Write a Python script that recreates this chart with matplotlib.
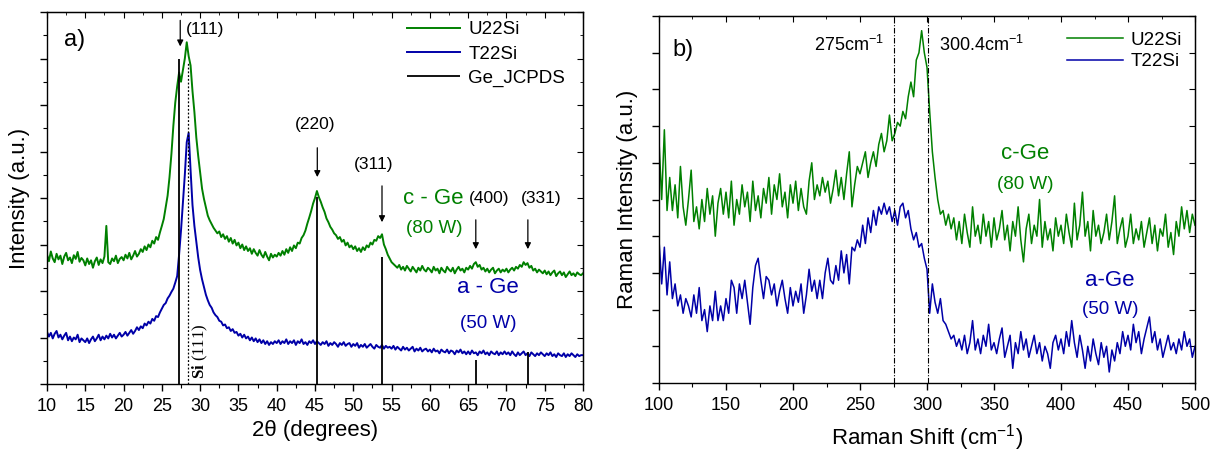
import numpy as np
import matplotlib
matplotlib.use("Agg")
import matplotlib.pyplot as plt
from matplotlib.ticker import MultipleLocator, NullFormatter

plt.rcParams["font.family"] = ["Liberation Sans", "DejaVu Sans"]
plt.rcParams["mathtext.fontset"] = "custom"
plt.rcParams["mathtext.rm"] = "Liberation Sans"
plt.rcParams["mathtext.it"] = "Liberation Sans:italic"
plt.rcParams["mathtext.bf"] = "Liberation Serif:bold"

GREEN = "#008000"
BLUE = "#0000a8"

# ---- XRD data (a), 2theta grid 10..80 step 0.25 ----
two_theta = np.arange(10, 80.001, 0.25)

xrd_u22si = [
    2.78, 2.64, 2.85, 2.70, 2.62, 2.80, 2.68, 2.76, 2.58, 2.74, 2.82, 2.66, 2.72, 2.60, 2.77, 2.69, 2.84, 2.63, 2.71, 2.66,
    2.55, 2.70, 2.58, 2.66, 2.50, 2.64, 2.72, 2.56, 2.68, 2.60, 2.74, 3.40, 2.62, 2.58, 2.70, 2.64, 2.76, 2.60, 2.69, 2.73,
    2.66, 2.78, 2.70, 2.82, 2.68, 2.76, 2.86, 2.74, 2.80, 2.90, 2.84, 2.96, 2.88, 3.00, 2.94, 3.08, 3.02, 3.16, 3.10, 3.26,
    3.40, 3.55, 3.80, 4.05, 4.45, 4.95, 5.55, 6.05, 6.40, 6.70, 6.50, 6.75, 7.00, 7.35, 7.05, 6.85, 6.30, 5.85, 5.30, 4.90,
    4.55, 4.20, 3.98, 3.80, 3.62, 3.52, 3.44, 3.36, 3.30, 3.24, 3.28, 3.16, 3.22, 3.12, 3.18, 3.06, 3.14, 3.02, 3.10, 2.98,
    3.04, 2.92, 3.00, 2.88, 2.96, 2.86, 2.92, 2.80, 2.90, 2.82, 2.76, 2.88, 2.78, 2.72, 2.84, 2.74, 2.66, 2.80, 2.72, 2.78,
    2.74, 2.82, 2.76, 2.86, 2.78, 2.90, 2.82, 2.94, 2.86, 2.98, 2.92, 3.04, 3.02, 3.14, 3.20, 3.30, 3.45, 3.58, 3.72, 3.88,
    4.00, 4.15, 4.02, 3.92, 3.80, 3.70, 3.56, 3.48, 3.38, 3.32, 3.24, 3.20, 3.12, 3.16, 3.06, 3.10, 2.98, 3.04, 2.94, 2.98,
    2.90, 2.96, 2.86, 2.92, 2.84, 2.94, 2.88, 2.98, 2.94, 3.04, 3.00, 3.10, 3.08, 3.18, 3.14, 3.22, 3.00, 2.90, 2.78, 2.70,
    2.62, 2.58, 2.54, 2.50, 2.56, 2.46, 2.52, 2.44, 2.54, 2.48, 2.42, 2.52, 2.46, 2.40, 2.50, 2.44, 2.54, 2.46, 2.42, 2.50,
    2.46, 2.40, 2.52, 2.44, 2.48, 2.38, 2.50, 2.44, 2.40, 2.52, 2.46, 2.42, 2.50, 2.38, 2.46, 2.52, 2.44, 2.48, 2.40, 2.50,
    2.46, 2.54, 2.48, 2.58, 2.62, 2.52, 2.56, 2.46, 2.50, 2.42, 2.48, 2.40, 2.46, 2.50, 2.38, 2.44, 2.48, 2.40, 2.46, 2.42,
    2.48, 2.40, 2.46, 2.50, 2.44, 2.52, 2.48, 2.56, 2.52, 2.62, 2.56, 2.60, 2.50, 2.54, 2.44, 2.48, 2.40, 2.46, 2.42, 2.38,
    2.44, 2.36, 2.42, 2.34, 2.40, 2.44, 2.32, 2.38, 2.42, 2.34, 2.40, 2.30, 2.36, 2.42, 2.34, 2.38, 2.32, 2.40, 2.36, 2.34,
    2.38,
]

xrd_t22si = [
    1.12, 1.02, 1.10, 0.98, 1.08, 1.14, 1.00, 1.06, 0.96, 1.04, 1.10, 0.94, 1.02, 0.92, 1.00, 0.96, 1.06, 0.90, 0.98, 0.94,
    0.90, 0.98, 0.88, 0.96, 1.02, 0.92, 0.98, 1.06, 0.94, 1.02, 0.96, 1.04, 0.98, 1.08, 1.00, 1.06, 0.98, 1.04, 1.10, 1.02,
    1.06, 1.12, 1.04, 1.10, 1.16, 1.08, 1.14, 1.22, 1.16, 1.24, 1.20, 1.30, 1.26, 1.34, 1.30, 1.40, 1.36, 1.46, 1.44, 1.54,
    1.62, 1.70, 1.74, 1.84, 1.90, 1.98, 2.05, 2.18, 2.32, 2.78, 3.30, 3.90, 4.50, 5.20, 5.40, 4.60, 3.85, 3.40, 3.05, 2.72,
    2.45, 2.25, 2.08, 1.92, 1.80, 1.70, 1.64, 1.54, 1.48, 1.44, 1.36, 1.34, 1.26, 1.28, 1.20, 1.22, 1.14, 1.18, 1.10, 1.12,
    1.04, 1.08, 1.00, 1.06, 0.98, 1.02, 0.94, 1.00, 0.92, 0.98, 0.90, 0.96, 0.88, 0.94, 0.86, 0.92, 0.84, 0.90, 0.86, 0.92,
    0.88, 0.94, 0.86, 0.92, 0.88, 0.96, 0.86, 0.92, 0.88, 0.94, 0.84, 0.92, 0.88, 0.96, 0.86, 0.90, 0.84, 0.92, 0.88, 0.94,
    0.86, 0.92, 0.88, 0.84, 0.90, 0.86, 0.92, 0.82, 0.88, 0.84, 0.90, 0.86, 0.80, 0.88, 0.84, 0.90, 0.82, 0.86, 0.88, 0.80,
    0.86, 0.82, 0.88, 0.78, 0.84, 0.80, 0.86, 0.78, 0.82, 0.86, 0.80, 0.76, 0.84, 0.80, 0.78, 0.84, 0.76, 0.82, 0.78, 0.80,
    0.76, 0.82, 0.74, 0.80, 0.76, 0.72, 0.80, 0.74, 0.78, 0.72, 0.76, 0.80, 0.70, 0.76, 0.72, 0.78, 0.70, 0.74, 0.76, 0.70,
    0.74, 0.68, 0.76, 0.70, 0.72, 0.66, 0.74, 0.70, 0.68, 0.74, 0.66, 0.72, 0.70, 0.64, 0.72, 0.68, 0.74, 0.66, 0.70, 0.64,
    0.70, 0.64, 0.72, 0.66, 0.68, 0.62, 0.70, 0.66, 0.72, 0.64, 0.68, 0.62, 0.70, 0.66, 0.64, 0.70, 0.62, 0.68, 0.64, 0.70,
    0.64, 0.68, 0.62, 0.70, 0.64, 0.60, 0.68, 0.62, 0.66, 0.70, 0.62, 0.66, 0.60, 0.68, 0.64, 0.60, 0.66, 0.62, 0.68, 0.64,
    0.60, 0.66, 0.62, 0.68, 0.60, 0.64, 0.58, 0.66, 0.62, 0.60, 0.66, 0.58, 0.64, 0.60, 0.66, 0.62, 0.58, 0.64, 0.60, 0.62,
    0.62,
]

# reference Ge lines (JCPDS)
ge_pos = [27.28, 45.31, 53.70, 66.02, 72.80]
ge_int = [7.0, 4.02, 2.73, 0.52, 0.69]
si_pos = 28.44

# peak labels: (text, label x, label y, arrow x, arrow top, arrow bottom)
peak_labels = [
    ("(220)", 45.0, 5.57, 45.3, 5.14, 4.39),
    ("(311)", 52.6, 4.71, 53.75, 4.32, 3.42),
    ("(400)", 67.8, 4.0, 66.0, 3.59, 2.84),
    ("(331)", 74.6, 4.0, 72.8, 3.59, 2.84),
]

# ---- Raman data (b), shift grid 100..500 step 2 ----
raman_shift = np.arange(100, 500.001, 2)

raman_u22si = [
    6.6, 5.0, 6.9, 4.7, 5.6, 4.7, 5.4, 4.5, 5.9, 4.8, 4.3, 5.0, 5.8, 4.4, 4.8, 4.2, 5.0, 4.4, 5.3, 4.6, 5.1, 4.0, 4.9, 5.3, 4.6,
    5.2, 4.5, 5.5, 4.3, 5.0, 4.6, 5.4, 4.8, 5.2, 4.4, 5.5, 4.7, 5.1, 4.5, 5.3, 4.9, 5.6, 4.6, 5.4, 5.0, 5.7, 4.8, 5.2, 4.5, 5.4,
    4.9, 5.5, 4.7, 5.3, 4.8, 4.6, 5.5, 6.0, 5.0, 5.4, 5.1, 5.6, 5.2, 5.5, 4.9, 5.3, 5.8, 5.1, 5.6, 5.0, 5.7, 6.3, 4.8, 5.4, 5.9,
    5.7, 6.0, 6.3, 5.6, 6.0, 6.3, 5.9, 6.5, 6.8, 6.3, 6.6, 7.3, 6.6, 6.8, 7.1, 7.0, 7.4, 7.2, 7.8, 8.2, 7.8, 8.8, 9.0, 9.6, 9.0,
    8.6, 7.4, 6.3, 5.6, 5.0, 4.6, 4.7, 4.3, 4.6, 4.2, 4.5, 3.9, 4.4, 3.8, 4.6, 4.1, 3.7, 4.8, 4.0, 4.3, 3.8, 4.6, 4.0, 4.4, 3.7,
    4.5, 3.9, 4.2, 4.7, 3.9, 4.3, 3.6, 4.4, 4.0, 4.8, 3.9, 3.3, 4.2, 4.6, 3.8, 4.3, 4.0, 5.0, 3.7, 4.4, 3.9, 4.2, 3.6, 4.5, 4.0,
    4.3, 3.8, 4.6, 4.1, 3.7, 4.9, 3.9, 4.3, 5.2, 4.0, 4.4, 3.6, 4.7, 4.0, 4.3, 3.8, 4.1, 4.6, 3.9, 4.4, 5.1, 3.8, 4.2, 4.5, 3.7,
    4.0, 4.6, 3.8, 4.2, 3.9, 4.4, 3.7, 4.1, 4.5, 3.8, 4.3, 3.6, 4.2, 4.0, 4.6, 3.7, 4.1, 3.5, 4.4, 4.0, 4.8, 4.2, 4.7, 4.1, 4.6,
    4.3,
]

raman_t22si = [
    3.9, 2.7, 3.7, 2.4, 3.3, 2.3, 2.7, 2.1, 2.4, 1.9, 2.3, 2.1, 1.8, 2.4, 1.9, 2.6, 1.7, 2.0, 1.4, 2.1, 1.7, 2.5, 1.7, 2.1, 1.7,
    2.3, 1.9, 2.8, 2.6, 1.9, 2.7, 2.3, 2.8, 2.2, 1.6, 2.6, 3.2, 3.4, 2.8, 2.3, 2.9, 2.8, 2.4, 2.7, 2.1, 2.5, 2.8, 2.3, 1.9, 2.6,
    2.1, 2.5, 2.2, 2.7, 1.9, 2.4, 3.1, 2.5, 2.8, 2.3, 2.8, 2.3, 3.0, 3.4, 2.8, 2.7, 3.2, 2.8, 3.6, 3.0, 3.5, 2.7, 3.7, 3.6, 3.9,
    3.7, 4.3, 3.8, 4.5, 4.1, 4.7, 4.3, 4.8, 4.6, 4.9, 4.6, 4.8, 4.4, 4.7, 4.3, 4.8, 4.9, 4.5, 4.7, 4.2, 3.9, 4.1, 3.7, 3.8, 3.4,
    3.1, 1.9, 2.7, 2.2, 1.9, 2.3, 1.7, 1.6, 1.4, 1.2, 1.3, 1.0, 1.2, 0.9, 1.3, 0.8, 1.1, 1.7, 0.9, 1.2, 0.8, 1.3, 1.0, 1.6, 0.9,
    1.1, 0.8, 1.2, 1.5, 0.7, 1.0, 1.3, 0.4, 1.1, 0.8, 1.4, 0.9, 1.2, 0.7, 1.0, 1.3, 0.8, 1.1, 0.6, 1.0, 0.8, 0.4, 1.1, 1.3, 0.9,
    1.2, 0.8, 1.4, 1.0, 1.7, 1.1, 0.7, 1.3, 0.9, 0.4, 1.0, 0.6, 1.2, 0.8, 0.5, 1.1, 0.7, 1.0, 0.3, 0.9, 0.6, 1.1, 0.8, 1.4, 1.0,
    1.3, 0.9, 1.6, 1.1, 1.4, 0.8, 1.2, 1.5, 1.8, 1.1, 1.4, 0.9, 1.2, 0.7, 1.0, 1.3, 0.9, 1.1, 0.8, 1.2, 0.9, 1.4, 1.0, 1.2, 0.7,
    1.0,
]

raman_marks = [275, 300.4]

fig = plt.figure(figsize=(12.18, 4.54), dpi=100)
ax1 = fig.add_axes([47 / 1218, 70 / 454, 536 / 1218, 372 / 454])
ax2 = fig.add_axes([659 / 1218, 71 / 454, 536 / 1218, 367 / 454])


def style_axes(ax, xmaj, xmin, ymaj, ymin):
    # left/bottom ticks outward, top/right mirrored inward
    ax.xaxis.set_major_locator(MultipleLocator(xmaj))
    ax.xaxis.set_minor_locator(MultipleLocator(xmin))
    ax.yaxis.set_major_locator(MultipleLocator(ymaj))
    ax.yaxis.set_minor_locator(MultipleLocator(ymin))
    ax.yaxis.set_major_formatter(NullFormatter())
    ax.tick_params(which="major", direction="out", length=5, width=1, labelsize=13, pad=5)
    ax.tick_params(which="minor", direction="out", length=3, width=0.8)
    for s in ax.spines.values():
        s.set_linewidth(1)
    top = ax.secondary_xaxis("top")
    top.xaxis.set_major_locator(MultipleLocator(xmaj))
    top.xaxis.set_minor_locator(MultipleLocator(xmin))
    top.tick_params(which="major", direction="in", length=4, labeltop=False)
    top.tick_params(which="minor", direction="in", length=2)
    right = ax.secondary_yaxis("right")
    right.yaxis.set_major_locator(MultipleLocator(ymaj))
    right.yaxis.set_minor_locator(MultipleLocator(ymin))
    right.tick_params(which="major", direction="in", length=4, labelright=False)
    right.tick_params(which="minor", direction="in", length=2)


# ---- panel a) XRD ----
ax1.plot(two_theta, xrd_u22si, color=GREEN, lw=1.4, label="U22Si")
ax1.plot(two_theta, xrd_t22si, color=BLUE, lw=1.4, label="T22Si")
ax1.vlines(ge_pos, 0, ge_int, color="k", lw=1.3, label="Ge_JCPDS", zorder=5)
ax1.vlines(si_pos, 0, 6.9, color="k", lw=0.9, linestyles=(0, (1.5, 1.5)), zorder=5)
ax1.set_xlim(10, 80)
ax1.set_ylim(0, 8)
style_axes(ax1, 5, 2.5, 1, 0.5)
ax1.set_xlabel("2θ (degrees)", fontsize=16, labelpad=4)
ax1.set_ylabel("Intensity (a.u.)", fontsize=16, labelpad=2)

ax1.text(12.2, 7.4, "a)", fontsize=17, ha="left", va="center")
ax1.annotate("", xy=(27.4, 7.2), xytext=(27.4, 7.88),
             arrowprops=dict(arrowstyle="-|>", color="k", lw=0.9, mutation_scale=9))
ax1.text(28.2, 7.62, "(111)", fontsize=12.5, ha="left", va="center")
for txt, lx, ly, axp, atop, abot in peak_labels:
    ax1.text(lx, ly, txt, fontsize=12.5, ha="center", va="center")
    ax1.annotate("", xy=(axp, abot), xytext=(axp, atop),
                 arrowprops=dict(arrowstyle="-|>", color="k", lw=0.9, mutation_scale=9))
ax1.text(30.0, 0.1, r"$\mathbf{Si}$ (111)", family="Liberation Serif", fontsize=12,
         rotation=90, ha="center", va="bottom")
ax1.text(60.5, 4.0, "c - Ge", color=GREEN, fontsize=16, ha="center", va="center")
ax1.text(60.6, 3.35, "(80 W)", color=GREEN, fontsize=13.5, ha="center", va="center")
ax1.text(67.6, 2.08, "a - Ge", color=BLUE, fontsize=16, ha="center", va="center")
ax1.text(67.6, 1.31, "(50 W)", color=BLUE, fontsize=13.5, ha="center", va="center")
ax1.legend(loc="upper left", bbox_to_anchor=(0.672, 0.975), frameon=False, fontsize=13.5,
           borderpad=0, borderaxespad=0, handlelength=2.8, handletextpad=0.45, labelspacing=0.38)

# ---- panel b) Raman ----
ax2.plot(raman_shift, raman_u22si, color=GREEN, lw=1.1, label="U22Si")
ax2.plot(raman_shift, raman_t22si, color=BLUE, lw=1.1, label="T22Si")
for xm in raman_marks:
    ax2.axvline(xm, color="k", lw=0.8, ls=(0, (5, 1.5, 1, 1.5)), zorder=5)
ax2.set_xlim(100, 500)
ax2.set_ylim(0, 10)
style_axes(ax2, 50, 25, 1, 1)
ax2.set_xlabel("Raman Shift (cm$^{-1}$)", fontsize=16, labelpad=6)
ax2.set_ylabel("Raman Intensity (a.u.)", fontsize=16, labelpad=5)

ax2.text(110, 9.07, "b)", fontsize=17, ha="left", va="center")
ax2.text(268, 9.2, "275cm$^{-1}$", fontsize=13, ha="right", va="center")
ax2.text(309, 9.2, "300.4cm$^{-1}$", fontsize=13, ha="left", va="center")
ax2.text(373, 6.24, "c-Ge", color=GREEN, fontsize=16, ha="center", va="center")
ax2.text(373, 5.42, "(80 W)", color=GREEN, fontsize=13.5, ha="center", va="center")
ax2.text(436.6, 2.8, "a-Ge", color=BLUE, fontsize=16, ha="center", va="center")
ax2.text(436.6, 2.0, "(50 W)", color=BLUE, fontsize=13.5, ha="center", va="center")
ax2.legend(loc="upper left", bbox_to_anchor=(0.761, 0.958), frameon=False, fontsize=13.5,
           borderpad=0, borderaxespad=0, handlelength=3.0, handletextpad=0.4, labelspacing=0.25)

fig.savefig("out.png", dpi=100)
print("saved out.png")
